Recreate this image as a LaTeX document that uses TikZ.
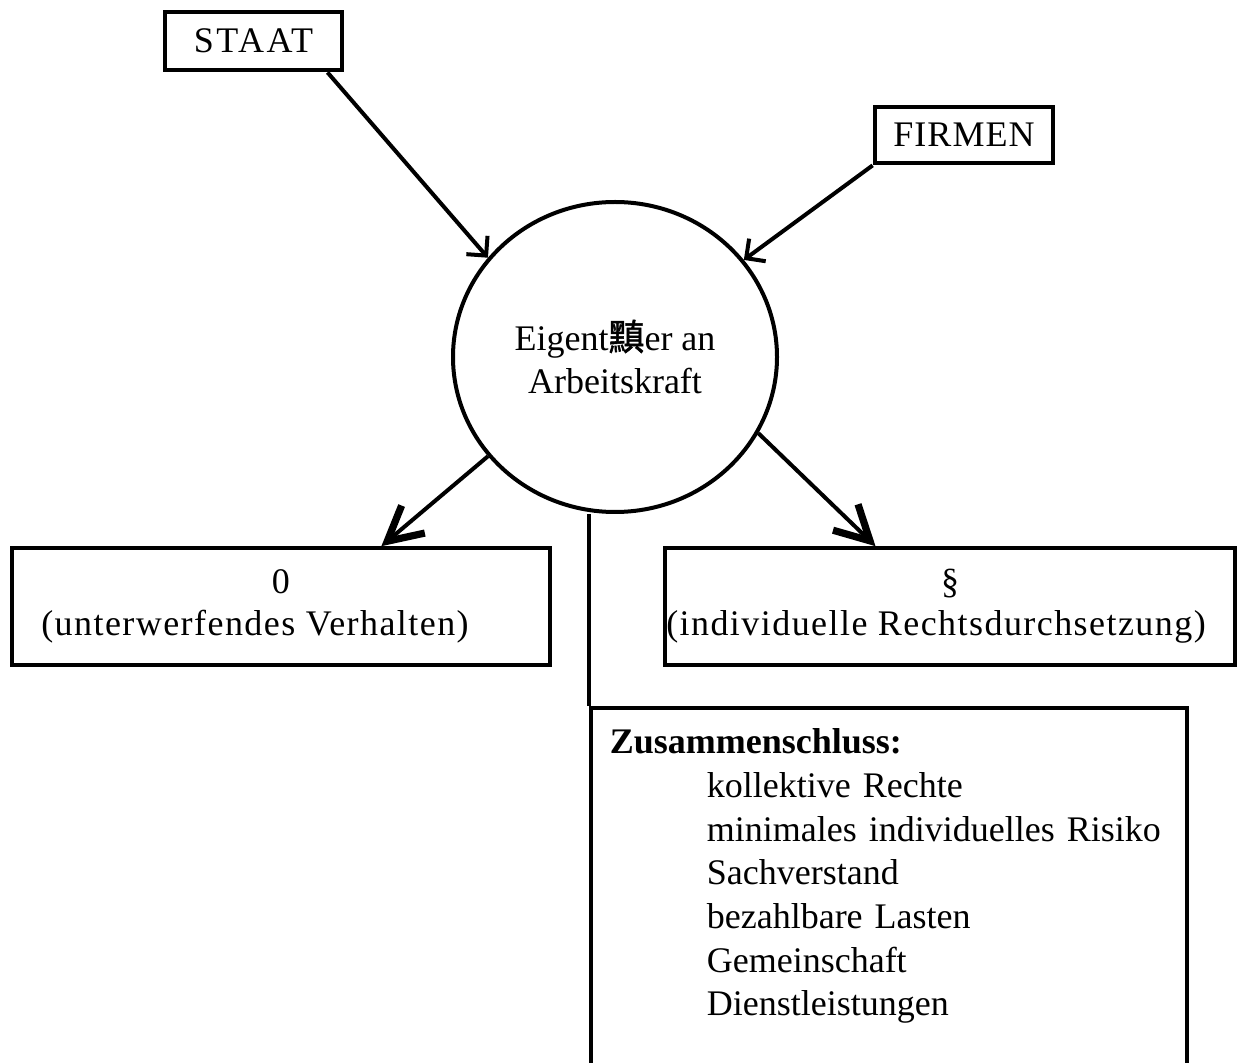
\documentclass[tikz,border=0pt]{standalone}
\usepackage{fontspec}
\setmainfont{Liberation Serif}
\newfontfamily\weit[LetterSpace=4]{Liberation Serif}
\newfontfamily\cjk[FakeBold=1.5]{Noto Sans CJK SC}
\usepackage{tikz}
\usetikzlibrary{arrows.meta,positioning,shapes.geometric}
\tikzset{
  kasten/.style   = {draw, line width=2.4pt, rectangle, inner sep=0pt, align=center},
  feld/.style     = {draw, line width=1.8pt, rectangle, inner sep=0pt, align=center,
                     minimum height=58.5pt, font=\fontsize{18}{21}\weit},
  kreis/.style    = {draw, line width=2pt, ellipse, inner sep=0pt, align=center,
                     minimum width=162pt, minimum height=155pt},
  zupfeil/.style  = {-{Straight Barb[length=7pt,width=14pt,line width=2pt]}, line width=2pt},
  abpfeil/.style  = {-{Straight Barb[length=17pt,width=18pt,line width=3.6pt]}, line width=2pt},
}

\begin{document}
\begin{tikzpicture}[x=0.5pt,y=-0.5pt,font=\fontsize{18}{21.85}\selectfont]
\useasboundingbox (0,0) rectangle (1248,1063);
% oben: Akteure
\node[kasten,minimum width=88.5pt,minimum height=29pt] (staat) at (253.5,41)
  {\addfontfeatures{LetterSpace=7}STAAT};
\node[kasten,minimum width=89pt,minimum height=28pt] (firmen) at (964,135)
  {\addfontfeatures{LetterSpace=3}FIRMEN};
% Mitte
\node[kreis] (eigner) at (615,357) {Eigent{\cjk 黰}er an\\Arbeitskraft};
% unten
\node[feld,minimum width=269pt] (null) at (281,606.5)
  {0\\(unterwerfendes Verhalten)\hspace*{26pt}};
\node[feld,minimum width=285pt] (recht) at (950,606.5)
  {\S\\(individuelle Rechtsdurchsetzung)\hspace*{14pt}};
\node[draw,line width=1.8pt,anchor=north west,inner xsep=9.5pt,inner ysep=10.5pt,
      text width=279pt,align=left,text depth=175pt] (bund) at (589,706)
  {\textbf{Zusammenschluss:}\\
   \hspace*{48.5pt}kollektive Rechte\\
   \hspace*{48.5pt}minimales individuelles Risiko\\
   \hspace*{48.5pt}Sachverstand\\
   \hspace*{48.5pt}bezahlbare Lasten\\
   \hspace*{48.5pt}Gemeinschaft\\
   \hspace*{48.5pt}Dienstleistungen};
% Verbindungen
\draw[zupfeil] (staat.-23) -- (eigner.142);
\draw[zupfeil] (firmen.south west) -- (eigner.37);
\draw[abpfeil] (eigner.218) -- (null.31);
\draw[abpfeil] (eigner.-28) -- (recht.141);
\draw[line width=1.8pt] (eigner.south -| bund.north west) -- (bund.north west);
\end{tikzpicture}
\end{document}
